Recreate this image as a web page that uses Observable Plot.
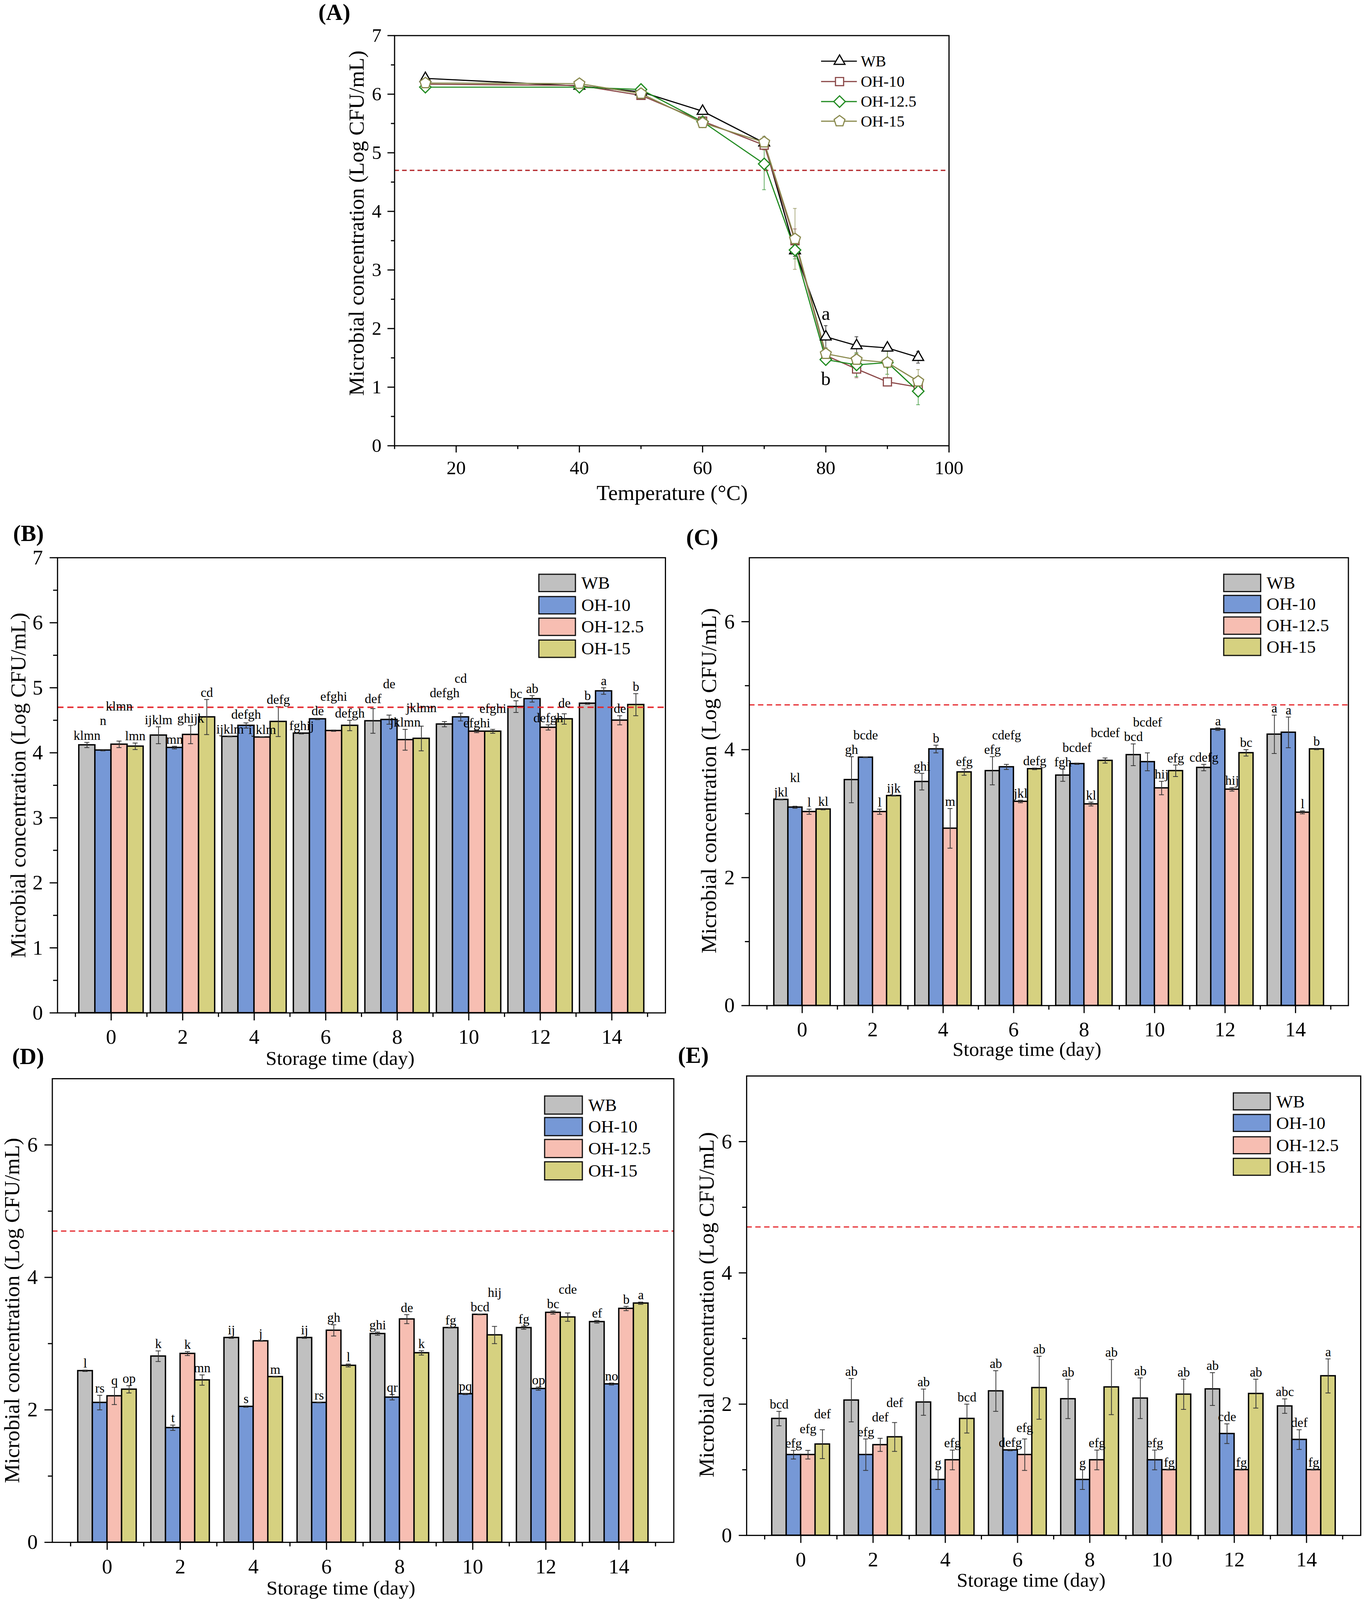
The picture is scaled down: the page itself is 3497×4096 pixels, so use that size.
<!DOCTYPE html>
<html><head><meta charset="utf-8">
<script src="https://cdn.jsdelivr.net/npm/d3@7"></script>
<script src="https://cdn.jsdelivr.net/npm/@observablehq/plot@0.6"></script>
<style>
html,body{margin:0;padding:0;background:#fff;overflow:hidden;}
#page{position:relative;width:3549px;height:4157px;transform:scale(0.985);transform-origin:0 0;font-family:"Liberation Serif","Times New Roman",serif;color:#000;}
.abs{position:absolute;white-space:nowrap;line-height:1;}
</style></head><body><div id="page"></div>
<script>
// ---------- Panel A data ----------
const tempA = [15, 40, 50, 60, 70, 75, 80, 85, 90, 95];
const aWB    = [6.27, 6.14, 6.04, 5.71, 5.17, 3.33, 1.86, 1.71, 1.67, 1.51];
const aWBe   = [0.03, 0.03, 0.03, 0.03, 0.05, 0.10, 0.19, 0.15, 0.05, 0.10];
const aOH10  = [6.17, 6.15, 5.98, 5.54, 5.13, 3.50, 1.54, 1.31, 1.09, 1.00];
const aOH10e = [0.03, 0.03, 0.03, 0.03, 0.08, 0.20, 0.05, 0.15, 0.07, 0.05];
const aOH125 = [6.12, 6.12, 6.08, 5.53, 4.81, 3.34, 1.47, 1.38, 1.42, 0.93];
const aOH125e= [0.02, 0.02, 0.02, 0.05, 0.44, 0.15, 0.04, 0.20, 0.20, 0.23];
const aOH15  = [6.19, 6.18, 6.01, 5.51, 5.18, 3.53, 1.57, 1.47, 1.42, 1.10];
const aOH15e = [0.05, 0.05, 0.05, 0.03, 0.10, 0.52, 0.10, 0.12, 0.28, 0.20];
const aXTicks = [20, 40, 60, 80, 100];
const aXMinor = [10, 30, 50, 70, 90];
const aYTicks = [0, 1, 2, 3, 4, 5, 6, 7];
const aYMinor = [0.5, 1.5, 2.5, 3.5, 4.5, 5.5, 6.5];
const limitLine = 4.7;

// ---------- Bar panels shared ----------
const series = ["WB", "OH-10", "OH-12.5", "OH-15"];
const days = [0, 2, 4, 6, 8, 10, 12, 14];
const dayMinor = [-1, 1, 3, 5, 7, 9, 11, 13, 15];

// ---------- Panel B ----------
const bWB    = [4.12, 4.27, 4.25, 4.30, 4.49, 4.44, 4.71, 4.76];
const bWBe   = [0.04, 0.13, 0.005, 0.01, 0.19, 0.04, 0.09, 0.012];
const bOH10  = [4.04, 4.08, 4.42, 4.52, 4.51, 4.55, 4.83, 4.95];
const bOH10e = [0.01, 0.02, 0.04, 0.01, 0.07, 0.06, 0.05, 0.05];
const bOH125 = [4.13, 4.28, 4.24, 4.34, 4.20, 4.33, 4.39, 4.50];
const bOH125e= [0.05, 0.14, 0.005, 0.01, 0.16, 0.02, 0.04, 0.07];
const bOH15  = [4.10, 4.55, 4.48, 4.42, 4.22, 4.33, 4.52, 4.74];
const bOH15e = [0.05, 0.27, 0.23, 0.08, 0.19, 0.03, 0.08, 0.17];
const bWBl   = ["klmn", "ijklm", "ijklm", "fghij", "def", "defgh", "bc", "b"];
const bOH10l = ["n", "mn", "defgh", "de", "de", "cd", "ab", "a"];
const bOH125l= ["klmn", "ghijk", "ijklm", "efghi", "jklmn", "efghi", "defgh", "de"];
const bOH15l = ["lmn", "cd", "defg", "defgh", "jklmn", "efghi", "de", "b"];
const bYTicks = [0, 1, 2, 3, 4, 5, 6, 7];
const bYMinor = [0.5, 1.5, 2.5, 3.5, 4.5, 5.5, 6.5];

// ---------- Panel C ----------
const cWB    = [3.22, 3.53, 3.50, 3.67, 3.60, 3.92, 3.72, 4.24];
const cWBe   = [0.005, 0.36, 0.13, 0.22, 0.095, 0.17, 0.05, 0.30];
const cOH10  = [3.10, 3.88, 4.01, 3.73, 3.78, 3.81, 4.32, 4.27];
const cOH10e = [0.016, 0.005, 0.06, 0.04, 0.01, 0.14, 0.02, 0.24];
const cOH125 = [3.03, 3.03, 2.77, 3.19, 3.15, 3.40, 3.38, 3.02];
const cOH125e= [0.04, 0.04, 0.31, 0.02, 0.03, 0.105, 0.027, 0.023];
const cOH15  = [3.07, 3.28, 3.65, 3.70, 3.83, 3.67, 3.95, 4.01];
const cOH15e = [0.01, 0.005, 0.05, 0.012, 0.04, 0.09, 0.05, 0.01];
const cWBl   = ["jkl", "gh", "ghi", "efg", "fgh", "bcd", "cdefg", "a"];
const cOH10l = ["kl", "bcde", "b", "cdefg", "bcdef", "bcdef", "a", "a"];
const cOH125l= ["l", "l", "m", "jkl", "kl", "hij", "hij", "l"];
const cOH15l = ["kl", "ijk", "efg", "defg", "bcdef", "efg", "bc", "b"];

// ---------- Panel D ----------
const dWB    = [2.59, 2.81, 3.09, 3.09, 3.15, 3.24, 3.24, 3.33];
const dWBe   = [0.01, 0.08, 0.01, 0.01, 0.024, 0.005, 0.023, 0.02];
const dOH10  = [2.11, 1.73, 2.05, 2.11, 2.19, 2.24, 2.32, 2.39];
const dOH10e = [0.11, 0.04, 0.01, 0.005, 0.04, 0.01, 0.024, 0.015];
const dOH125 = [2.21, 2.85, 3.04, 3.20, 3.37, 3.44, 3.47, 3.53];
const dOH125e= [0.13, 0.03, 0.005, 0.085, 0.068, 0.005, 0.024, 0.032];
const dOH15  = [2.31, 2.45, 2.50, 2.67, 2.86, 3.13, 3.40, 3.61];
const dOH15e = [0.055, 0.078, 0.005, 0.022, 0.033, 0.13, 0.063, 0.017];
const dWBl   = ["l", "k", "ij", "ij", "ghi", "fg", "fg", "ef"];
const dOH10l = ["rs", "t", "s", "rs", "qr", "pq", "op", "no"];
const dOH125l= ["q", "k", "j", "gh", "de", "bcd", "bc", "b"];
const dOH15l = ["op", "mn", "m", "l", "k", "hij", "cde", "a"];

// ---------- Panel E ----------
const eWB    = [1.78, 2.06, 2.03, 2.20, 2.08, 2.09, 2.23, 1.97];
const eWBe   = [0.11, 0.33, 0.20, 0.31, 0.30, 0.31, 0.25, 0.11];
const eOH10  = [1.23, 1.23, 0.85, 1.30, 0.85, 1.15, 1.55, 1.46];
const eOH10e = [0.066, 0.24, 0.15, 0.01, 0.15, 0.15, 0.15, 0.15];
const eOH125 = [1.23, 1.38, 1.15, 1.23, 1.15, 1.00, 1.00, 1.00];
const eOH125e= [0.066, 0.10, 0.15, 0.24, 0.15, 0.005, 0.005, 0.005];
const eOH15  = [1.39, 1.50, 1.78, 2.25, 2.26, 2.15, 2.16, 2.43];
const eOH15e = [0.22, 0.22, 0.22, 0.48, 0.42, 0.23, 0.22, 0.26];
const eWBl   = ["bcd", "ab", "ab", "ab", "ab", "ab", "ab", "abc"];
const eOH10l = ["efg", "efg", "g", "defg", "g", "efg", "cde", "def"];
const eOH125l= ["efg", "def", "efg", "efg", "efg", "fg", "fg", "fg"];
const eOH15l = ["def", "def", "bcd", "ab", "ab", "ab", "ab", "a"];
const cdeYTicks = [0, 2, 4, 6];
const cdeYMinor = [1, 3, 5];

// ---------- styles ----------
const barColors = ["#c0c0c0", "#7698d6", "#f7beb2", "#d6d180"];
const aColors = ["#000000", "#8b4848", "#1f8a1f", "#8a8a4e"];
const FONT = "Liberation Serif";
const LETTER = 34;
const page = document.getElementById("page");
const fmt = d => String(d);
const blank = () => "";

const pentagon = {
  draw(context, size) {
    const R = Math.sqrt(size) * 0.62;
    for (let k = 0; k < 5; k++) {
      const a = -Math.PI / 2 + k * 2 * Math.PI / 5;
      const x = R * Math.cos(a), y = R * Math.sin(a);
      if (k) context.lineTo(x, y); else context.moveTo(x, y);
    }
    context.closePath();
  }
};
const aSymbols = [d3.symbolTriangle2, d3.symbolSquare2, d3.symbolDiamond2, pentagon];

function place(el, x, y) {
  el.style.position = "absolute";
  el.style.left = x + "px";
  el.style.top = y + "px";
  page.appendChild(el);
}
function label(text, cx, cy, size, opts = {}) {
  const d = document.createElement("div");
  d.className = "abs";
  d.textContent = text;
  d.style.fontSize = size + "px";
  d.style.left = cx + "px";
  d.style.top = cy + "px";
  if (opts.left) d.style.transform = "translate(0,-50%)";
  else d.style.transform = "translate(-50%,-50%)" + (opts.rotate ? " rotate(-90deg)" : "");
  if (opts.bold) d.style.fontWeight = "bold";
  page.appendChild(d);
}

// ---------- Panel A ----------
(function () {
  const vals = [aWB, aOH10, aOH125, aOH15];
  const errs = [aWBe, aOH10e, aOH125e, aOH15e];
  const ox = 800, oy = 60, w = 1750, h = 1160;
  const fl = 1025, fr = 2466, ft = 92, fb = 1158;
  const marks = [
    Plot.ruleY([limitLine], {stroke: "#b3262a", strokeWidth: 3.5, strokeDasharray: "12,8"})
  ];
  const rowsBy = vals.map((v, i) => tempA.map((t, j) => ({t, v: v[j], e: errs[i][j]})));
  rowsBy.forEach((rows, i) => {
    marks.push(Plot.ruleX(rows, {x: "t", y1: r => r.v - r.e, y2: r => r.v + r.e, stroke: aColors[i], strokeOpacity: 0.7, strokeWidth: 2}));
    marks.push(Plot.ruleY(rows, {y: r => r.v + r.e, x1: r => r.t - 0.3, x2: r => r.t + 0.3, stroke: aColors[i], strokeOpacity: 0.7, strokeWidth: 2}));
    marks.push(Plot.ruleY(rows, {y: r => r.v - r.e, x1: r => r.t - 0.3, x2: r => r.t + 0.3, stroke: aColors[i], strokeOpacity: 0.7, strokeWidth: 2}));
  });
  rowsBy.forEach((rows, i) => {
    marks.push(Plot.line(rows, {x: "t", y: "v", stroke: aColors[i], strokeWidth: 3}));
  });
  rowsBy.forEach((rows, i) => {
    marks.push(Plot.dot(rows, {x: "t", y: "v", symbol: aSymbols[i], r: 13.5, fill: "white", stroke: aColors[i], strokeWidth: 3}));
  });
  const j80 = tempA.indexOf(80);
  const lowAt80 = Math.min(aOH10[j80], aOH125[j80], aOH15[j80]);
  marks.push(Plot.text([{t: 80, y: aWB[j80] + aWBe[j80] + 0.2, s: "a"}, {t: 80, y: lowAt80 - 0.33, s: "b"}],
    {x: "t", y: "y", text: "s", fontSize: 50, fill: "black"}));
  marks.push(
    Plot.axisX({ticks: aXTicks, tickSize: 18, tickPadding: 20, tickFormat: fmt, fontSize: 50, strokeWidth: 3, label: null}),
    Plot.axisX({ticks: aXMinor, tickSize: 9, tickFormat: blank, strokeWidth: 3, label: null}),
    Plot.axisY({ticks: aYTicks, tickSize: 18, tickPadding: 16, tickFormat: fmt, fontSize: 50, strokeWidth: 3, label: null}),
    Plot.axisY({ticks: aYMinor, tickSize: 9, tickFormat: blank, strokeWidth: 3, label: null}),
    Plot.frame({stroke: "black", strokeWidth: 3})
  );
  const svg = Plot.plot({
    width: w, height: h,
    marginLeft: fl - ox, marginRight: ox + w - fr, marginTop: ft - oy, marginBottom: oy + h - fb,
    x: {domain: [10, 100], axis: null},
    y: {domain: [0, 7], axis: null},
    style: {fontFamily: FONT, background: "none", overflow: "visible", color: "black"},
    marks
  });
  place(svg, ox, oy);

  // legend
  const rowsY = [159, 212, 264, 315];
  series.forEach((s, i) => {
    const lg = d3.create("svg").attr("width", 110).attr("height", 40).style("overflow", "visible");
    lg.append("line").attr("x1", 6).attr("x2", 99).attr("y1", 20).attr("y2", 20)
      .attr("stroke", aColors[i]).attr("stroke-width", 3);
    lg.append("path").attr("transform", "translate(54,20)")
      .attr("d", d3.symbol(aSymbols[i], Math.PI * 13.5 * 13.5)())
      .attr("fill", "white").attr("stroke", aColors[i]).attr("stroke-width", 3);
    place(lg.node(), 2128, rowsY[i] - 20);
    label(s, 2237, rowsY[i], 41, {left: true});
  });
  label("(A)", 869, 32, 60, {bold: true});
  label("Microbial concentration (Log CFU/mL)", 926, 580, 56, {rotate: true});
  label("Temperature (°C)", 1747, 1280, 56);
})();

// ---------- Bar panel builder ----------
function barPanel(cfg) {
  const {ox, oy, w, h, fl, fr, ft, fb, yTicks, yMinor, barW, vals, errs, labs, limitW, limitDash} = cfg;
  const rows = [];
  days.forEach((d, j) => series.forEach((s, i) =>
    rows.push({day: d, i, s, v: vals[i][j], e: errs[i][j], lab: labs[i][j]})));
  const cx = r => r.day + (r.i - 1.5) * barW;
  const cap = 0.07;

  // letter placement: just above the error bar, lifted when it would collide with an earlier letter
  const pxPerDay = (fr - fl) / 17, pxPerUnit = (fb - ft) / 7;
  const charW = 0.47 * LETTER, lineH = 38, gap = 7;
  const placed = [];
  rows.forEach(r => {
    const x = cx(r) * pxPerDay;
    const wd = r.lab.length * charW;
    let yb = (r.v + r.e) * pxPerUnit + gap;
    let moved = true;
    while (moved) {
      moved = false;
      for (const p of placed) {
        if (Math.abs(x - p.x) < (wd + p.w) / 2 + 2 && yb < p.yb + lineH && yb + lineH > p.yb) {
          yb = p.yb + lineH; moved = true;
        }
      }
    }
    placed.push({x, w: wd, yb});
    r.ly = yb / pxPerUnit;
  });

  const svg = Plot.plot({
    width: w, height: h,
    marginLeft: fl - ox, marginRight: ox + w - fr, marginTop: ft - oy, marginBottom: oy + h - fb,
    x: {domain: [-1.5, 15.5], axis: null},
    y: {domain: [0, 7], axis: null},
    color: {domain: series, range: barColors},
    style: {fontFamily: FONT, background: "none", overflow: "visible", color: "black"},
    marks: [
      Plot.rectY(rows, {x1: r => cx(r) - barW / 2, x2: r => cx(r) + barW / 2, y1: 0, y2: "v", fill: "s", stroke: "black", strokeWidth: 3.5}),
      Plot.ruleX(rows, {x: cx, y1: r => r.v - r.e, y2: r => r.v + r.e, stroke: "#333", strokeWidth: 2}),
      Plot.ruleY(rows, {y: r => r.v + r.e, x1: r => cx(r) - cap, x2: r => cx(r) + cap, stroke: "#333", strokeWidth: 2}),
      Plot.ruleY(rows, {y: r => r.v - r.e, x1: r => cx(r) - cap, x2: r => cx(r) + cap, stroke: "#333", strokeWidth: 2}),
      Plot.ruleY([limitLine], {stroke: "#e5262b", strokeWidth: limitW, strokeDasharray: limitDash}),
      Plot.text(rows, {x: cx, y: "ly", text: "lab", lineAnchor: "bottom", fontSize: LETTER, fill: "black"}),
      Plot.axisX({ticks: days, tickSize: 20, tickPadding: 22, tickFormat: fmt, fontSize: 54, strokeWidth: 3, label: null}),
      Plot.axisX({ticks: dayMinor, tickSize: 11, tickFormat: blank, strokeWidth: 3, label: null}),
      Plot.axisY({ticks: yTicks, tickSize: 20, tickPadding: 18, tickFormat: fmt, fontSize: 54, strokeWidth: 3, label: null}),
      Plot.axisY({ticks: yMinor, tickSize: 11, tickFormat: blank, strokeWidth: 3, label: null}),
      Plot.frame({stroke: "black", strokeWidth: 3})
    ]
  });
  place(svg, ox, oy);
  // legend
  const {lx1, lx2, ltops, lh, lLabelX} = cfg;
  series.forEach((s, i) => {
    const b = document.createElement("div");
    b.style.position = "absolute";
    b.style.left = lx1 + "px";
    b.style.top = ltops[i] + "px";
    b.style.width = (lx2 - lx1) + "px";
    b.style.height = lh + "px";
    b.style.boxSizing = "border-box";
    b.style.border = "3px solid #111";
    b.style.background = barColors[i];
    page.appendChild(b);
    label(s, lLabelX, ltops[i] + lh / 2, 46, {left: true});
  });
  label(cfg.tag, cfg.tagX, cfg.tagY, 60, {bold: true});
  label("Microbial concentration (Log CFU/mL)", cfg.ytX, cfg.ytY, 56, {rotate: true});
  label("Storage time (day)", cfg.xtX, cfg.xtY, 52);
}

barPanel({ox: 0, oy: 1420, w: 1760, h: 1360, fl: 149, fr: 1729, ft: 1449, fb: 2632,
  yTicks: bYTicks, yMinor: bYMinor, barW: 0.45, limitW: 4, limitDash: "16,10",
  vals: [bWB, bOH10, bOH125, bOH15], errs: [bWBe, bOH10e, bOH125e, bOH15e], labs: [bWBl, bOH10l, bOH125l, bOH15l],
  lx1: 1399, lx2: 1497, ltops: [1491, 1549, 1605, 1662], lh: 48, lLabelX: 1511,
  tag: "(B)", tagX: 74, tagY: 1386, ytX: 47, ytY: 2041, xtX: 884, xtY: 2751});

barPanel({ox: 1860, oy: 1420, w: 1689, h: 1340, fl: 1947, fr: 3504, ft: 1449, fb: 2613,
  yTicks: cdeYTicks, yMinor: cdeYMinor, barW: 0.4, limitW: 3, limitDash: "14,9",
  vals: [cWB, cOH10, cOH125, cOH15], errs: [cWBe, cOH10e, cOH125e, cOH15e], labs: [cWBl, cOH10l, cOH125l, cOH15l],
  lx1: 3179, lx2: 3278, ltops: [1491, 1546, 1602, 1657], lh: 48, lLabelX: 3292,
  tag: "(C)", tagX: 1825, tagY: 1396, ytX: 1842, ytY: 2029, xtX: 2669, xtY: 2727});

barPanel({ox: 0, oy: 2780, w: 1780, h: 1377, fl: 135.5, fr: 1750.7, ft: 2803, fb: 4008,
  yTicks: cdeYTicks, yMinor: cdeYMinor, barW: 0.4, limitW: 3, limitDash: "14,9",
  vals: [dWB, dOH10, dOH125, dOH15], errs: [dWBe, dOH10e, dOH125e, dOH15e], labs: [dWBl, dOH10l, dOH125l, dOH15l],
  lx1: 1414, lx2: 1515, ltops: [2847, 2903, 2960, 3018], lh: 50, lLabelX: 1529,
  tag: "(D)", tagX: 73, tagY: 2745, ytX: 31, ytY: 3406, xtX: 886, xtY: 4127});

barPanel({ox: 1860, oy: 2770, w: 1689, h: 1387, fl: 1940, fr: 3536, ft: 2796, fb: 3990,
  yTicks: cdeYTicks, yMinor: cdeYMinor, barW: 0.4, limitW: 3, limitDash: "14,9",
  vals: [eWB, eOH10, eOH125, eOH15], errs: [eWBe, eOH10e, eOH125e, eOH15e], labs: [eWBl, eOH10l, eOH125l, eOH15l],
  lx1: 3204, lx2: 3303, ltops: [2839, 2895, 2953, 3009], lh: 47, lLabelX: 3317,
  tag: "(E)", tagX: 1802, tagY: 2742, ytX: 1836, ytY: 3391, xtX: 2680, xtY: 4107});
</script></body></html>
